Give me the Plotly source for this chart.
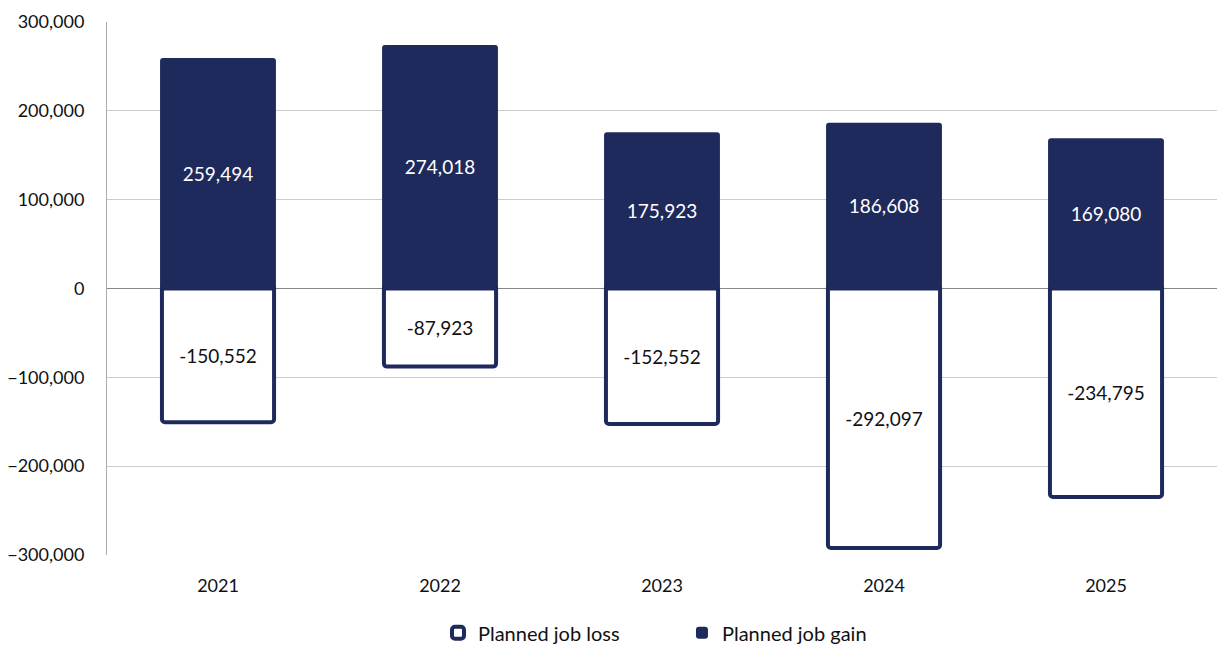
import plotly.graph_objects as go

years = ["2021", "2022", "2023", "2024", "2025"]
job_loss = [-150552, -87923, -152552, -292097, -234795]
job_gain = [259494, 274018, 175923, 186608, 169080]

NAVY = "#1f2a5c"
FONT = "Lato, sans-serif"


def fmt(v):
    return f"{v:,}"


fig = go.Figure()

fig.add_trace(go.Bar(
    x=years, y=job_loss, name="Planned job loss",
    width=0.505,
    marker=dict(color="white", line=dict(color=NAVY, width=4), cornerradius=3),
    text=[fmt(v) for v in job_loss], textposition="inside",
    insidetextanchor="middle", textangle=0,
    textfont=dict(color="#111111", size=19, family=FONT),
    constraintext="none", hoverinfo="x+y",
))

fig.add_trace(go.Bar(
    x=years, y=job_gain, name="Planned job gain",
    width=0.522,
    marker=dict(color=NAVY, line=dict(width=0), cornerradius=3),
    text=[fmt(v) for v in job_gain], textposition="inside",
    insidetextanchor="middle", textangle=0,
    textfont=dict(color="white", size=19, family=FONT),
    constraintext="none", hoverinfo="x+y",
))

fig.update_layout(
    width=1217, height=645,
    margin=dict(l=107, r=0, t=22, b=90, autoexpand=False),
    barmode="relative",
    plot_bgcolor="white", paper_bgcolor="white",
    font=dict(family=FONT, size=18, color="#111111"),
    showlegend=True,
    legend=dict(
        orientation="h", x=0.518, xanchor="center", y=-0.146, yanchor="middle",
        font=dict(size=20, family=FONT, color="#111111"), traceorder="normal",
        entrywidth=199,
    ),
    xaxis=dict(
        showgrid=False, showline=False, zeroline=False,
        ticks="", ticklabelstandoff=18,
        tickfont=dict(size=18, family=FONT),
    ),
    yaxis=dict(
        range=[-300000, 300000], dtick=100000, tickformat=",",
        showgrid=True, gridcolor="#cccccc", gridwidth=1,
        zeroline=True, zerolinecolor="#888888", zerolinewidth=1,
        showline=True, linecolor="#aaaaaa", linewidth=1,
        ticks="", ticklabelstandoff=18,
        tickfont=dict(size=18, family=FONT),
    ),
)

fig.write_html("out.html")
